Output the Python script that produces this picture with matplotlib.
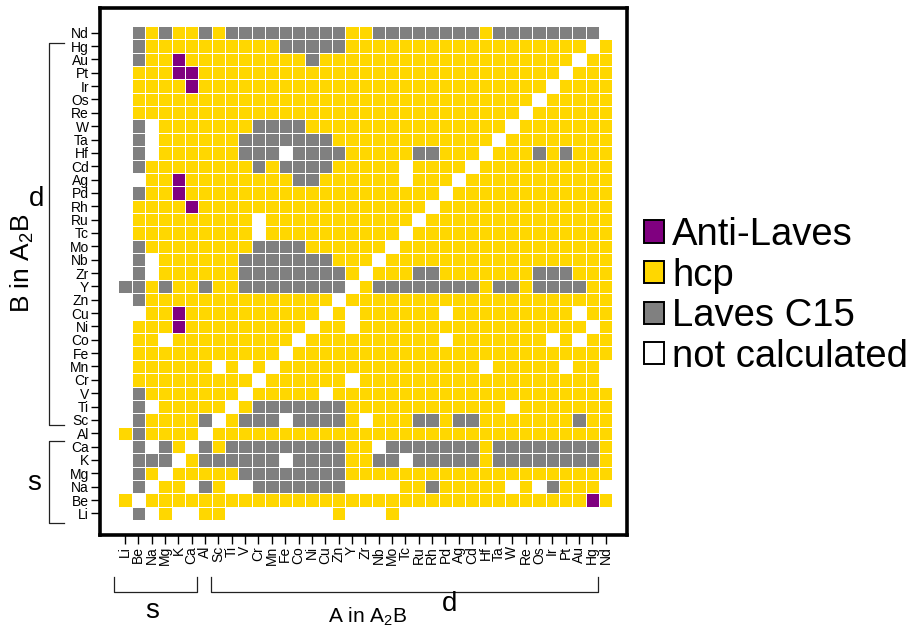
import matplotlib
matplotlib.use('Agg')
import matplotlib.pyplot as plt
import numpy as np
from matplotlib.colors import ListedColormap
from matplotlib.patches import Patch
from matplotlib.lines import Line2D
import matplotlib.transforms as mtransforms

plt.rcParams['font.family'] = ['Liberation Sans', 'DejaVu Sans']
plt.rcParams['mathtext.fontset'] = 'custom'
plt.rcParams['mathtext.rm'] = 'Liberation Sans'
plt.rcParams['mathtext.it'] = 'Liberation Sans:italic'

# A element (columns, left -> right)
a_elements = ['Li', 'Be', 'Na', 'Mg', 'K', 'Ca', 'Al', 'Sc', 'Ti', 'V', 'Cr', 'Mn',
              'Fe', 'Co', 'Ni', 'Cu', 'Zn', 'Y', 'Zr', 'Nb', 'Mo', 'Tc', 'Ru', 'Rh',
              'Pd', 'Ag', 'Cd', 'Hf', 'Ta', 'W', 'Re', 'Os', 'Ir', 'Pt', 'Au', 'Hg', 'Nd']
# B element (rows, top -> bottom)
b_elements = ['Nd', 'Hg', 'Au', 'Pt', 'Ir', 'Os', 'Re', 'W', 'Ta', 'Hf', 'Cd', 'Ag',
              'Pd', 'Rh', 'Ru', 'Tc', 'Mo', 'Nb', 'Zr', 'Y', 'Zn', 'Cu', 'Ni', 'Co',
              'Fe', 'Mn', 'Cr', 'V', 'Ti', 'Sc', 'Al', 'Ca', 'K', 'Mg', 'Na', 'Be', 'Li']

phases = ['Anti-Laves', 'hcp', 'Laves C15', 'not calculated']
phase_codes = ['P', 'Y', 'G', 'W']
phase_colors = ['#800080', '#FFD700', '#808080', '#FFFFFF']

# Ground-state phase per (B row, A column); P=Anti-Laves, Y=hcp, G=Laves C15, W=not calculated
phase_rows = [
    "W G Y G YY G Y GGGGGGGGG YY GGGGGGGG Y GGGGGGGG W",                 # Nd
    "W G YYYYY YYYYY GGGGG YYYYY YYYYY YYYYY YYY W Y",                   # Hg
    "W G Y Y P YYYYY YYYY G YYYYY YYYYY YYYYY YYYY W Y Y",               # Au
    "W YYY PP YYYYY YYYYY YYYYY YYYYY YYYYY YY W YYY",                   # Pt
    "W YYYY P YYYYY YYYYY YYYYY YYYYY YYYYY Y W YYYY",                   # Ir
    "W YYYYY YYYYY YYYYY YYYYY YYYYY YYYYY W YYYYY",                     # Os
    "W YYYYY YYYYY YYYYY YYYYY YYYYY YYYY W YYYYY Y",                    # Re
    "W G W YYYYY YY GGGG YYYYY YYYYY YYYYY W YYYYY YY",                  # W
    "W G W YYYYY Y GGGGG GG YYYYY YYYYY YY W YYYYY YYY",                 # Ta
    "W G W YYYYY Y GGG W GGGG YYYYY GG YYY W YYY G Y G YYY",             # Hf
    "W G YYYYY YYY G Y GGGG YYYYY W YYYY W YYYYY YYYYY",                 # Cd
    "W W YY P YYYYY YYY GG YYYYY Y W YYY W YYYYY YYYYY Y",               # Ag
    "W G YY P YYYYY YYYYY YYYYY YYYY W YYYYY YYYYY YY",                  # Pd
    "W YYYY P YYYYY YYYYY YYYYY YY W YYYYY YYYYY YYY",                   # Rh
    "W YYYYY YYYY W YYYYY YYYYY Y W YYYYY YYYYY YYYY",                   # Ru
    "W YYYYY YYYY W YYYYY YYYYY W YYYYY YYYYY YYYYY",                    # Tc
    "W G YYYYY YYY GGGG YYYYY Y W YYYYY YYYYY YYYYY Y",                  # Mo
    "W G W YYYYY Y GGGGG GG YYY W YYYYY YYYYY YYYYY YY",                 # Nb
    "W G W YYYYY Y GGGGG GGG Y W YYY GG YYYYY YY GGG YYY",               # Zr
    "G G Y G Y Y G Y Y GGGGG GGG W Y GGGGG GGG Y GG Y GGGG YY",          # Y
    "W G YYYYY YYYYY YYYY W YYYYY YYYYY YYYYY YYYYY",                    # Zn
    "W W YY P YYYYY YYYYY W Y W YYYYY Y W YYYYY YYYY W YY",              # Cu
    "W YYY P YYYYY YYYY W YY W YYYYY YYYYY YYYYY YY W Y",                # Ni
    "W YY W YYYYY YYYY W YYYYY YYYYY W YYYYY YY W Y W YY",               # Co
    "W YYYYY YYYYY Y W YYYYY YYYYY YYYYY YYYYY YYYY",                    # Fe
    "W YYYYY Y W Y W Y W YYYYY YYYYY YYYYY W YYYYY W YY W",              # Mn
    "W YYYYY YYYY W YYYYY Y W YYYYY YYYYY YYYYY YYY W",                  # Cr
    "W G YYYYY YY W YYYYY W YYYYY YYYYY YYYYY YYYYY Y",                  # V
    "W G W YYYYY W Y GGGGG GG YYYYY YYYYY YY W YYYYY YY",                # Ti
    "W G YYYY G W Y GGG W GGGG Y W YYY GG Y GG YYYYY YY G YY",           # Sc
    "Y G YYYY W YYYYY YYYYY YYYYY YYYYY YYYYY YYYYY",                    # Al
    "W G W G Y W G Y G GGGGG GGG YY W GGGGG GG Y GGGGG GGG Y",           # Ca
    "W G G G W Y G G G GGG W GGGG YY GG W GGGGG Y GGGGG GGG Y",          # K
    "W G Y W YYYYY GGGGG GGG YYYYY YYYYY YYYYY YYYYY",                   # Mg
    "W G W Y Y W G Y W W GGGGG GG WWWW YY G YYYYY W Y W G YYY W",        # Na
    "Y W YYYYY YYYYY YYYYY YYYYY YYYYY YYYYY YYY P Y",                   # Be
    "W G W Y W W Y Y WWWWW WWW Y WWW Y WWWWW WWWWW WWWWW W",             # Li
]

grid = np.array([[phase_codes.index(ch) for ch in row.replace(' ', '')]
                 for row in phase_rows])
assert grid.shape == (len(b_elements), len(a_elements))

W_PX, H_PX = 917, 633
fig = plt.figure(figsize=(W_PX / 100, H_PX / 100), dpi=100)
ax = fig.add_axes([100 / W_PX, 1 - 535 / H_PX, 527 / W_PX, 527 / H_PX])

cmap = ListedColormap(phase_colors)
ax.pcolormesh(np.arange(len(a_elements) + 1), np.arange(len(b_elements) + 1), grid,
              cmap=cmap, vmin=-0.5, vmax=len(phases) - 0.5,
              edgecolors='white', linewidth=0.6)

ax.set_xlim(-1.37, len(a_elements) + 1.1)
ax.set_ylim(len(b_elements) + 1.12, -1.35)
ax.set_xticks(np.arange(len(a_elements)) + 0.5)
ax.set_xticklabels(a_elements, rotation=90, fontsize=10)
ax.set_yticks(np.arange(len(b_elements)) + 0.5)
ax.set_yticklabels(b_elements, fontsize=10)
ax.tick_params(length=6.5, width=1.0, pad=1.5)
for s in ax.spines.values():
    s.set_linewidth(2.6)

# Legend
handles = [Patch(facecolor=c, edgecolor='black', linewidth=1.4) for c in phase_colors]
fig.legend(handles, phases, loc='center left', bbox_to_anchor=(644 / W_PX, 1 - 296 / H_PX),
           frameon=False, fontsize=27.5, handlelength=0.52, handleheight=0.52,
           handletextpad=0.22, labelspacing=0.12, borderaxespad=0, borderpad=0)

# Brackets (left: B element groups)
tl = mtransforms.blended_transform_factory(fig.transFigure, ax.transData)
lx0, lx1 = 49 / W_PX, 64 / W_PX
for y0, y1 in [(1.27, 29.9), (31.1, 37.2)]:
    fig.add_artist(Line2D([lx1, lx0, lx0, lx1], [y0, y0, y1, y1], transform=tl,
                          color='#222222', linewidth=0.9))
fig.text(37 / W_PX, 1 - 199 / H_PX, 'd', fontsize=20, ha='center', va='center')
fig.text(34 / W_PX, 1 - 483 / H_PX, 's', fontsize=20, ha='center', va='center')
fig.text(22 / W_PX, 1 - 263 / H_PX, 'B in A$_2$B', fontsize=19, rotation=90,
         ha='center', va='center')

# Brackets (bottom: A element groups)
tb = mtransforms.blended_transform_factory(ax.transData, fig.transFigure)
by0, by1 = 1 - 577 / H_PX, 1 - 592 / H_PX
for x0, x1 in [(-0.32, 5.9), (6.94, 35.93)]:
    fig.add_artist(Line2D([x0, x0, x1, x1], [by0, by1, by1, by0], transform=tb,
                          color='#222222', linewidth=0.9))
fig.text(152 / W_PX, 1 - 611 / H_PX, 's', fontsize=20, ha='center', va='center')
fig.text(450 / W_PX, 1 - 604 / H_PX, 'd', fontsize=20, ha='center', va='center')
fig.text(368 / W_PX, 1 - 617 / H_PX, 'A in A$_2$B', fontsize=15, ha='center', va='center')

fig.savefig('out.png', dpi=100)
